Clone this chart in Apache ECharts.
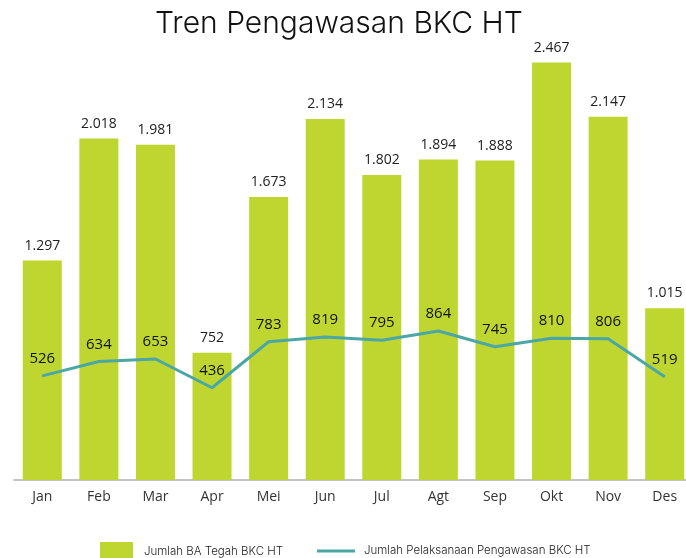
<!DOCTYPE html>
<html>
<head>
<meta charset="utf-8">
<script src="https://cdn.jsdelivr.net/npm/echarts@6/dist/echarts.min.js"></script>
<style>
  html, body { margin: 0; padding: 0; background: #fff; }
  #chart { width: 686px; height: 558px; }
</style>
</head>
<body>
<div id="chart"></div>
<script>
  var months = ['Jan', 'Feb', 'Mar', 'Apr', 'Mei', 'Jun', 'Jul', 'Agt', 'Sep', 'Okt', 'Nov', 'Des'];
  var baTegah = [1297, 2018, 1981, 752, 1673, 2134, 1802, 1894, 1888, 2467, 2147, 1015];
  var pelaksanaan = [526, 634, 653, 436, 783, 819, 795, 864, 745, 810, 806, 519];

  var barName = 'Jumlah BA Tegah BKC HT';
  var lineName = 'Jumlah Pelaksanaan Pengawasan BKC HT';

  // thousand separator with a dot
  function fmt(v) {
    return String(v).replace(/\B(?=(\d{3})+(?!\d))/g, '.');
  }

  var chart = echarts.init(document.getElementById('chart'));
  chart.setOption({
    animation: false,
    title: {
      text: 'Tren Pengawasan BKC HT',
      left: 150,
      top: 4,
      textStyle: { fontFamily: 'Inter', fontSize: 30, fontWeight: 300, color: '#111' }
    },
    legend: [
      {
        data: [{ name: barName, icon: 'rect' }],
        left: 95, top: 537,
        itemWidth: 33, itemHeight: 20,
        textStyle: { fontFamily: 'Inter', fontSize: 11.5, fontWeight: 300, color: '#222', padding: [0, 0, 0, 6] }
      },
      {
        data: [{ name: lineName, icon: 'rect' }],
        left: 312, top: 540,
        itemWidth: 38, itemHeight: 3,
        textStyle: { fontFamily: 'Inter', fontSize: 11.5, fontWeight: 300, color: '#222', padding: [0, 0, 0, 4] }
      }
    ],
    grid: { left: 14, width: 679, top: 57, bottom: 78, containLabel: false, outerBoundsMode: 'none' },
    xAxis: {
      type: 'category',
      data: months,
      axisLine: { lineStyle: { color: '#c4c4c4', width: 2 } },
      axisTick: { show: false },
      axisLabel: { fontFamily: 'Open Sans', fontSize: 14, color: '#333', margin: 10 }
    },
    yAxis: [
      { type: 'value', min: 0, max: 2500, show: false, splitLine: { show: false } },
      { type: 'value', min: -260, max: 2932, show: false, splitLine: { show: false } }
    ],
    series: [
      {
        name: barName,
        type: 'bar',
        data: baTegah,
        barWidth: 39,
        itemStyle: { color: '#bed62f' },
        label: {
          show: true, position: 'top', distance: 8,
          fontFamily: 'Open Sans', fontSize: 14, color: '#222',
          formatter: function (p) { return fmt(p.value); }
        }
      },
      {
        name: lineName,
        type: 'line',
        yAxisIndex: 1,
        data: pelaksanaan,
        symbol: 'circle',
        symbolSize: 1,
        lineStyle: { color: '#4aa7a6', width: 3 },
        itemStyle: { color: '#4aa7a6' },
        label: {
          show: true, position: 'top', distance: 9,
          fontFamily: 'Open Sans', fontSize: 15, color: '#111',
          formatter: function (p) { return fmt(p.value); }
        }
      }
    ]
  });
</script>
</body>
</html>
